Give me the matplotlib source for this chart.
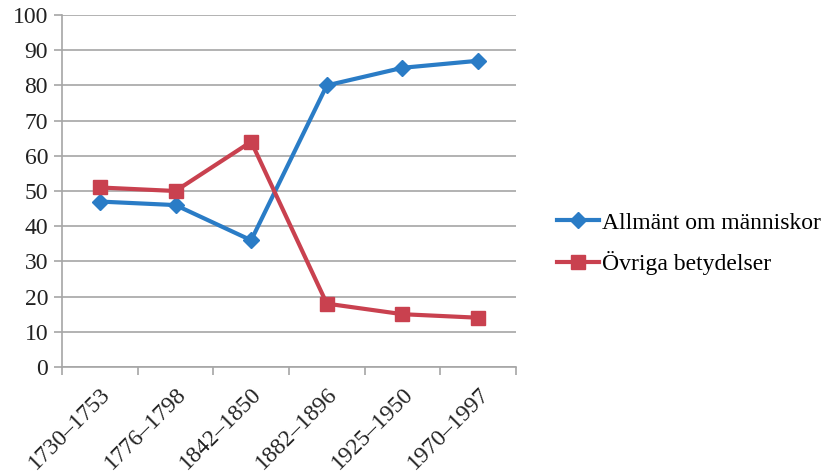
import numpy as np
import matplotlib.pyplot as plt

plt.rcParams['font.family'] = ['Liberation Serif', 'DejaVu Serif']

# Data
periods = ['1730–1753', '1776–1798', '1842–1850', '1882–1896', '1925–1950', '1970–1997']
allmant = [47, 46, 36, 80, 85, 87]
ovriga = [51, 50, 64, 18, 15, 14]

blue = '#2A7CC6'
red = '#C9414F'
grid = '#A6A6A6'

fig = plt.figure(figsize=(8.29, 4.72), dpi=100)
ax = fig.add_axes([62 / 829, 1 - 367 / 472, (516 - 62) / 829, (367 - 15) / 472])

x = np.arange(len(periods))
ax.plot(x, allmant, color=blue, lw=3, marker='D', ms=8, label='Allmänt om människor')
ax.plot(x, ovriga, color=red, lw=3, marker='s', ms=10, label='Övriga betydelser')

ax.set_xlim(-0.5, len(periods) - 0.5)
ax.set_ylim(0, 100)
ax.set_yticks(range(0, 101, 10))
ax.yaxis.grid(True, color=grid, lw=1.2)
ax.set_axisbelow(True)

ax.set_xticks(np.arange(-0.5, len(periods)), minor=False)
ax.set_xticklabels([])
ax.set_xticks(x, minor=True)
ax.set_xticklabels(periods, minor=True, rotation=45, ha='right', rotation_mode='anchor', fontsize=17, color='#222222')
ax.tick_params(axis='x', which='major', length=6, color=grid, width=1.2)
ax.tick_params(axis='x', which='minor', length=0, pad=12)
ax.tick_params(axis='y', length=6, color=grid, width=1.2, labelsize=17, labelcolor='#222222', pad=4)

for s in ['top', 'right']:
    ax.spines[s].set_visible(False)
for s in ['left', 'bottom']:
    ax.spines[s].set_color(grid)
    ax.spines[s].set_linewidth(1.2)

ax.legend(loc='center left', bbox_to_anchor=(1.09, 0.35), frameon=False, fontsize=17,
          handlelength=1.8, handletextpad=0.1, labelspacing=0.75, borderpad=0, borderaxespad=0)

fig.savefig('out.png', dpi=100)
